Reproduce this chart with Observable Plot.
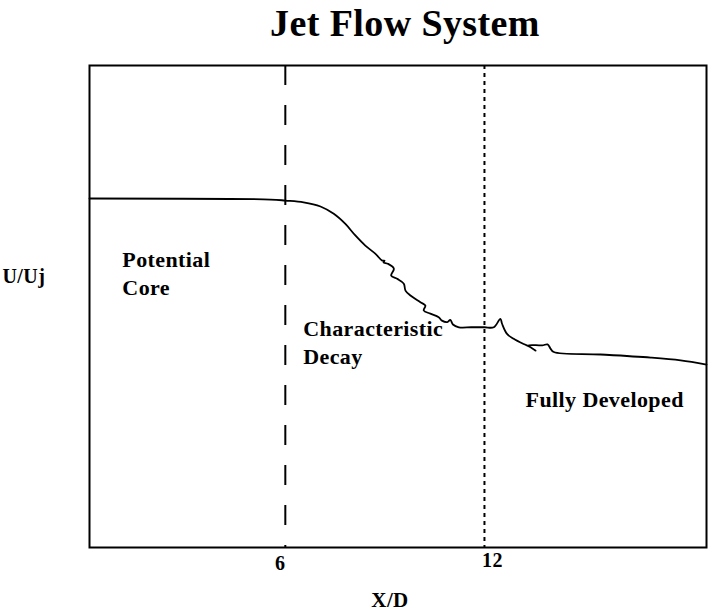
<!DOCTYPE html>
<html>
<head>
<meta charset="utf-8">
<script src="https://cdn.jsdelivr.net/npm/d3@7"></script>
<script src="https://cdn.jsdelivr.net/npm/@observablehq/plot@0.6"></script>
<style>
  html, body { margin: 0; padding: 0; background: #fff; }
  svg text { font-family: "Liberation Serif", "Times New Roman", serif; letter-spacing: 0.4px; }
</style>
</head>
<body>
<div id="chart"></div>
<script>
// Curve: non-dimensional axial distance X/D and centreline velocity U/Uj
const xD = [0.1, 5.55, 6.0, 6.55, 7.06, 7.46, 7.81, 8.11, 8.41, 8.71, 8.92, 8.99, 8.96, 9.09, 9.27, 9.19, 9.37, 9.57, 9.62, 9.77, 10.07, 10.22, 10.17, 10.37, 10.62, 10.72, 10.88, 10.97, 11.05, 11.23, 11.6, 12.0, 12.28, 12.48, 12.53, 12.68, 12.88, 13.18, 13.39, 13.54, 13.33, 13.74, 13.90, 13.99, 14.09, 15.50, 17.01, 17.91, 18.69];
const uUj = [1.0, 0.997, 0.994, 0.989, 0.977, 0.956, 0.927, 0.894, 0.865, 0.842, 0.822, 0.822, 0.817, 0.813, 0.799, 0.779, 0.770, 0.756, 0.736, 0.722, 0.703, 0.693, 0.679, 0.670, 0.660, 0.650, 0.646, 0.652, 0.639, 0.631, 0.631, 0.631, 0.631, 0.655, 0.641, 0.612, 0.598, 0.583, 0.574, 0.564, 0.579, 0.579, 0.582, 0.570, 0.560, 0.553, 0.544, 0.536, 0.524];

// Region boundaries and tick labels
const coreEnd = [6];
const decayEnd = [12];

// Region annotations
const regionLabels = ["Potential\nCore", "Characteristic\nDecay", "Fully Developed"];
const regionX = [1.09, 6.54, 13.24];
const regionY = [0.789, 0.592, 0.428];

const title = "Jet Flow System";
const xLabel = "X/D";
const yLabel = "U/Uj";

const curve = xD.map((x, i) => ({x, u: uUj[i]}));
const regions = regionLabels.map((t, i) => ({t, x: regionX[i], y: regionY[i]}));

const chart = Plot.plot({
  width: 708,
  height: 611,
  marginTop: 65,
  marginBottom: 64,
  marginLeft: 89,
  marginRight: 2,
  style: {background: "#fff", color: "#000", fontFamily: "'Liberation Serif', 'Times New Roman', serif"},
  x: {domain: [0.1, 18.69], axis: null},
  y: {domain: [0, 1.381], axis: null},
  marks: [
    Plot.ruleX(coreEnd, {stroke: "#000", strokeWidth: 2, strokeDasharray: "20,20"}),
    Plot.ruleX(decayEnd, {stroke: "#000", strokeWidth: 2, strokeDasharray: "4,4"}),
    Plot.line(curve, {x: "x", y: "u", stroke: "#000", strokeWidth: 1.8, curve: "catmull-rom"}),
    Plot.frame({stroke: "#000", strokeWidth: 2}),
    Plot.axisX(coreEnd, {tickSize: 0, tickPadding: 8, dx: -5, fontSize: 20, fontWeight: "bold", label: null}),
    Plot.axisX(decayEnd, {tickSize: 0, tickPadding: 5, dx: 8, fontSize: 20, fontWeight: "bold", label: null}),
    Plot.text(regions, {x: "x", y: "y", text: "t", textAnchor: "start", lineAnchor: "middle", lineHeight: 1.27, fontSize: 22, fontWeight: "bold", fill: "#000"}),
    Plot.text([xLabel], {frameAnchor: "bottom", dx: -8, dy: 59, lineAnchor: "bottom", fontSize: 21, fontWeight: "bold", fill: "#000"}),
    Plot.text([yLabel], {frameAnchor: "left", dx: -87, dy: -30, textAnchor: "start", lineAnchor: "middle", fontSize: 20, fontWeight: "bold", fill: "#000"}),
    Plot.text([title], {frameAnchor: "top", dx: 7, dy: -30, lineAnchor: "bottom", fontSize: 38, fontWeight: "bold", fill: "#000"})
  ]
});
// Tick label styling
d3.select(chart).selectAll("text")
  .filter(function() { return /^(6|12)$/.test(this.textContent.trim()); })
  .style("font-size", "20px")
  .style("font-weight", "bold");
document.getElementById("chart").appendChild(chart);
</script>
</body>
</html>
